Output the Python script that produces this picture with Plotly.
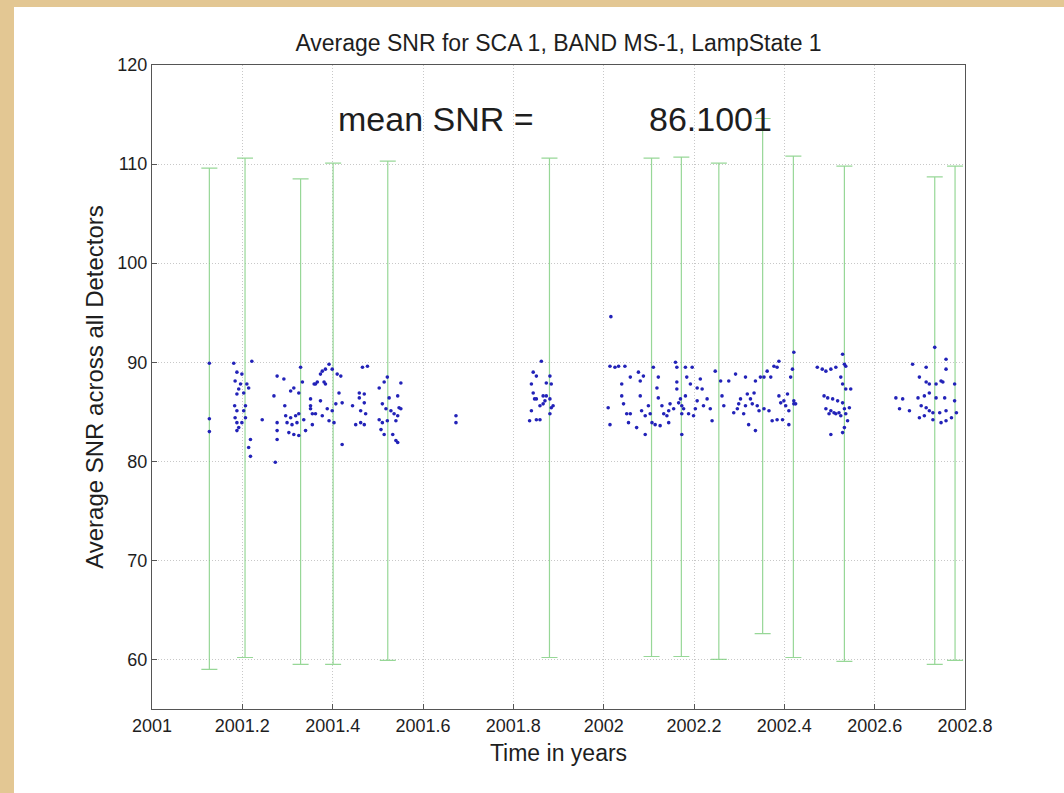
import plotly.graph_objects as go

# ---------------- data ----------------
time_years = [
    2001.127, 2001.127, 2001.127,
    2001.181, 2001.221, 2001.188, 2001.199, 2001.184, 2001.196, 2001.210, 2001.192, 2001.203, 2001.188,
    2001.214, 2001.183, 2001.207, 2001.188, 2001.203, 2001.184, 2001.207, 2001.188, 2001.199, 2001.192,
    2001.188, 2001.218, 2001.214, 2001.218, 2001.244,
    2001.277, 2001.292, 2001.270, 2001.307, 2001.314, 2001.333, 2001.329, 2001.325, 2001.294, 2001.296,
    2001.307, 2001.318, 2001.325, 2001.277, 2001.299, 2001.310, 2001.321, 2001.336, 2001.303, 2001.314,
    2001.325, 2001.277, 2001.277, 2001.340, 2001.273, 2001.351, 2001.355, 2001.359, 2001.366, 2001.373,
    2001.381,
    2001.377, 2001.392, 2001.399, 2001.410, 2001.418, 2001.362, 2001.384, 2001.351, 2001.362, 2001.377,
    2001.388, 2001.399, 2001.407, 2001.421, 2001.392, 2001.403, 2001.421, 2001.373, 2001.355, 2001.351,
    2001.414, 2001.444, 2001.384,
    2001.466, 2001.477, 2001.459, 2001.470, 2001.459, 2001.470, 2001.462, 2001.473, 2001.462, 2001.470,
    2001.451,
    2001.521, 2001.514, 2001.503, 2001.510, 2001.518, 2001.529, 2001.536, 2001.503, 2001.510, 2001.521,
    2001.507, 2001.514, 2001.533, 2001.525, 2001.540, 2001.551, 2001.544, 2001.547, 2001.551, 2001.544,
    2001.540, 2001.544,
    2001.673, 2001.673,
    2001.862, 2001.844, 2001.851, 2001.881, 2001.873, 2001.884, 2001.840, 2001.844, 2001.866, 2001.873,
    2001.851, 2001.881, 2001.866, 2001.888, 2001.859, 2001.840, 2001.881, 2001.884, 2001.836, 2001.851,
    2001.859, 2001.847, 2001.870,
    2002.016,
    2002.014, 2002.025, 2002.033, 2002.047, 2002.010, 2002.014, 2002.040, 2002.044, 2002.051, 2002.059,
    2002.059, 2002.055, 2002.073, 2002.040, 2002.081, 2002.081, 2002.088, 2002.099, 2002.103, 2002.092,
    2002.107, 2002.114, 2002.092, 2002.110, 2002.121, 2002.118, 2002.121, 2002.129, 2002.133, 2002.125,
    2002.084, 2002.077, 2002.140, 2002.144, 2002.147, 2002.155, 2002.159, 2002.162, 2002.162, 2002.162,
    2002.166, 2002.170, 2002.173, 2002.173, 2002.177, 2002.181, 2002.184, 2002.188, 2002.192, 2002.196,
    2002.199, 2002.203, 2002.207, 2002.207, 2002.214, 2002.218, 2002.173, 2002.144, 2002.181, 2002.221,
    2002.229, 2002.236, 2002.240, 2002.247, 2002.259, 2002.262, 2002.266, 2002.277, 2002.288, 2002.292,
    2002.296, 2002.299, 2002.303, 2002.310, 2002.314, 2002.314, 2002.318, 2002.325, 2002.329, 2002.333,
    2002.336, 2002.340, 2002.344, 2002.321, 2002.336, 2002.347, 2002.355, 2002.355, 2002.362, 2002.370,
    2002.377, 2002.384, 2002.388, 2002.388, 2002.392, 2002.399, 2002.403, 2002.410, 2002.407, 2002.414,
    2002.418, 2002.421, 2002.410, 2002.373, 2002.384, 2002.396, 2002.366, 2002.421,
    2002.421, 2002.425, 2002.473, 2002.484, 2002.492, 2002.503, 2002.514, 2002.529, 2002.533, 2002.536,
    2002.525, 2002.529, 2002.536, 2002.547, 2002.488, 2002.496, 2002.507, 2002.518, 2002.529, 2002.492,
    2002.503, 2002.510, 2002.521, 2002.533, 2002.544, 2002.499, 2002.514, 2002.525, 2002.536, 2002.540,
    2002.533, 2002.529, 2002.503,
    2002.647, 2002.662, 2002.655, 2002.677, 2002.684, 2002.714, 2002.733, 2002.758, 2002.758, 2002.699,
    2002.721, 2002.714, 2002.736, 2002.747, 2002.751, 2002.777, 2002.696, 2002.710, 2002.721, 2002.736,
    2002.755, 2002.777, 2002.703, 2002.714, 2002.721, 2002.729, 2002.744, 2002.758, 2002.781, 2002.699,
    2002.710, 2002.729, 2002.747, 2002.758, 2002.770,
]

avg_snr = [
    89.9, 84.3, 83.0,
    89.9, 90.1, 89.0, 88.8, 88.1, 87.8, 87.8, 87.3, 86.9, 86.8,
    87.4, 85.6, 85.6, 85.1, 85.1, 84.4, 84.4, 83.9, 83.9, 83.4,
    83.1, 82.2, 81.4, 80.5, 84.2,
    88.6, 88.3, 86.6, 87.1, 87.4, 88.0, 89.5, 86.9, 85.6, 84.6,
    84.4, 84.6, 84.8, 83.9, 83.9, 83.7, 83.9, 84.2, 82.9, 82.7,
    82.6, 83.1, 82.2, 83.1, 79.9, 85.3, 84.8, 87.8, 88.0, 88.8,
    88.0,
    89.1, 89.8, 89.3, 88.8, 88.6, 87.8, 87.8, 86.3, 84.8, 84.6,
    85.3, 85.1, 85.8, 85.9, 84.1, 83.9, 81.7, 86.1, 83.7, 85.6,
    86.9, 85.6, 89.3,
    89.5, 89.6, 86.9, 86.8, 86.4, 85.9, 85.1, 84.8, 83.9, 83.7,
    83.7,
    88.5, 88.0, 87.4, 85.8, 85.3, 85.1, 84.8, 84.2, 83.9, 84.1,
    83.2, 82.7, 82.7, 86.4, 82.1, 87.9, 86.6, 85.4, 85.3, 84.6,
    84.1, 81.9,
    84.6, 83.9,
    90.1, 89.0, 88.6, 88.6, 87.9, 87.8, 87.8, 86.9, 86.6, 86.6,
    86.3, 86.3, 85.8, 85.6, 85.6, 85.1, 84.8, 85.4, 84.1, 84.2,
    84.2, 86.3, 86.1,
    94.6,
    89.6, 89.5, 89.6, 89.6, 85.4, 83.7, 87.8, 85.8, 84.8, 84.8,
    88.5, 83.9, 83.4, 86.6, 88.1, 86.6, 88.6, 85.6, 84.8, 84.6,
    83.9, 83.7, 82.7, 89.5, 88.5, 87.4, 86.4, 85.6, 84.8, 83.6,
    85.1, 89.0, 84.6, 85.1, 85.8, 85.3, 90.0, 89.5, 88.0, 87.3,
    85.9, 86.3, 85.6, 84.8, 85.3, 89.5, 88.5, 84.8, 87.8, 89.5,
    84.6, 85.3, 86.1, 87.4, 88.3, 87.3, 82.7, 83.9, 86.6, 85.6,
    86.3, 85.3, 84.1, 89.1, 88.1, 86.6, 85.6, 88.1, 84.9, 88.8,
    85.3, 85.8, 86.3, 84.8, 85.6, 88.5, 86.8, 86.3, 85.8, 86.9,
    88.1, 85.6, 85.1, 83.7, 83.1, 88.5, 88.5, 85.3, 89.1, 88.5,
    89.6, 89.5, 90.1, 86.6, 85.9, 86.1, 85.6, 85.1, 86.8, 88.5,
    89.3, 85.8, 83.7, 84.1, 84.2, 84.2, 85.1, 91.0,
    86.1, 85.8, 89.5, 89.3, 89.1, 89.3, 89.5, 90.8, 89.8, 89.6,
    88.5, 87.8, 87.3, 87.3, 86.6, 86.4, 86.3, 86.1, 85.9, 85.3,
    85.1, 84.9, 84.9, 85.3, 85.4, 84.8, 84.8, 84.6, 84.8, 84.1,
    83.4, 82.9, 82.7,
    86.4, 86.3, 85.3, 85.1, 89.8, 89.5, 91.5, 90.3, 89.3, 88.5,
    87.8, 88.0, 87.8, 88.1, 88.0, 87.8, 86.4, 86.6, 86.9, 86.4,
    86.4, 86.1, 85.6, 85.4, 85.1, 84.9, 84.9, 85.1, 84.9, 84.4,
    84.6, 84.2, 83.9, 84.1, 84.4,
]

eb_time = [2001.127, 2001.206, 2001.329, 2001.401, 2001.522, 2001.880, 2002.106,
           2002.172, 2002.255, 2002.352, 2002.420, 2002.533, 2002.733, 2002.778]
eb_high = [109.6, 110.6, 108.5, 110.1, 110.3, 110.6, 110.6,
           110.7, 110.1, 114.6, 110.8, 109.8, 108.7, 109.8]
eb_low = [59.0, 60.2, 59.5, 59.5, 59.9, 60.2, 60.3,
          60.3, 60.0, 62.6, 60.2, 59.8, 59.5, 59.9]

x_ticks = [2001, 2001.2, 2001.4, 2001.6, 2001.8, 2002, 2002.2, 2002.4, 2002.6, 2002.8]
x_tick_labels = ["2001", "2001.2", "2001.4", "2001.6", "2001.8", "2002",
                 "2002.2", "2002.4", "2002.6", "2002.8"]
y_ticks = [60, 70, 80, 90, 100, 110, 120]

mean_snr = 86.1001
title_text = "Average SNR for SCA 1, BAND MS-1, LampState 1"

# ---------------- figure ----------------
W, H = 1064, 793
ML, MR, MT, MB = 152, 99, 65, 84
pw = W - ML - MR
ph = H - MT - MB

eb_mid = [(a + b) / 2 for a, b in zip(eb_low, eb_high)]
eb_plus = [h - m for h, m in zip(eb_high, eb_mid)]
eb_minus = [m - l for m, l in zip(eb_mid, eb_low)]

FONT = "Liberation Sans, Arial, Helvetica, sans-serif"
TXT = "#1e1e1e"

fig = go.Figure()
fig.add_trace(go.Scatter(
    x=eb_time, y=eb_mid, mode="markers",
    marker=dict(size=1, opacity=0),
    error_y=dict(type="data", symmetric=False, array=eb_plus, arrayminus=eb_minus,
                 color="rgba(125,205,125,0.8)", thickness=1.2, width=8),
    hoverinfo="skip", showlegend=False,
))
fig.add_trace(go.Scatter(
    x=time_years, y=avg_snr, mode="markers",
    marker=dict(size=3.6, color="#2222b8", line=dict(width=0)),
    showlegend=False,
))

axis_common = dict(
    showline=True, linecolor="#555555", linewidth=1, mirror=True,
    ticks="inside", ticklen=5, tickcolor="#555555",
    showgrid=True, gridcolor="#c8c8c8", griddash="1px,2px", gridwidth=1,
    zeroline=False,
    tickfont=dict(family=FONT, size=18, color=TXT),
)

fig.update_layout(
    width=W, height=H,
    margin=dict(l=ML, r=MR, t=MT, b=MB),
    paper_bgcolor="#e3c793",
    plot_bgcolor="white",
    title=dict(text=title_text, x=(ML + pw / 2) / W, xanchor="center",
               y=1 - 43 / H, yanchor="middle", yref="container",
               font=dict(family=FONT, size=23, color=TXT)),
    xaxis=dict(range=[2001, 2002.8], tickvals=x_ticks, ticktext=x_tick_labels,
               title=dict(text="Time in years", standoff=10,
                          font=dict(family=FONT, size=23, color=TXT)),
               **axis_common),
    yaxis=dict(range=[55, 120], tickvals=y_ticks,
               title=dict(text="Average SNR across all Detectors", standoff=6,
                          font=dict(family=FONT, size=24, color=TXT)),
               **axis_common),
    shapes=[dict(type="rect", xref="paper", yref="paper", layer="below",
                 x0=(14 - ML) / pw, x1=(W + 5 - ML) / pw,
                 y0=-(MB + 5) / ph, y1=1 + (MT - 7) / ph,
                 fillcolor="white", line=dict(width=0))],
    annotations=[
        dict(x=2001.629, y=114.6, xref="x", yref="y", text="mean SNR =",
             showarrow=False, xanchor="center", yanchor="middle",
             font=dict(family=FONT, size=34, color=TXT)),
        dict(x=2002.236, y=114.6, xref="x", yref="y", text=f"{mean_snr:.4f}",
             showarrow=False, xanchor="center", yanchor="middle",
             font=dict(family=FONT, size=34, color=TXT)),
    ],
)

fig.write_html("out.html")
